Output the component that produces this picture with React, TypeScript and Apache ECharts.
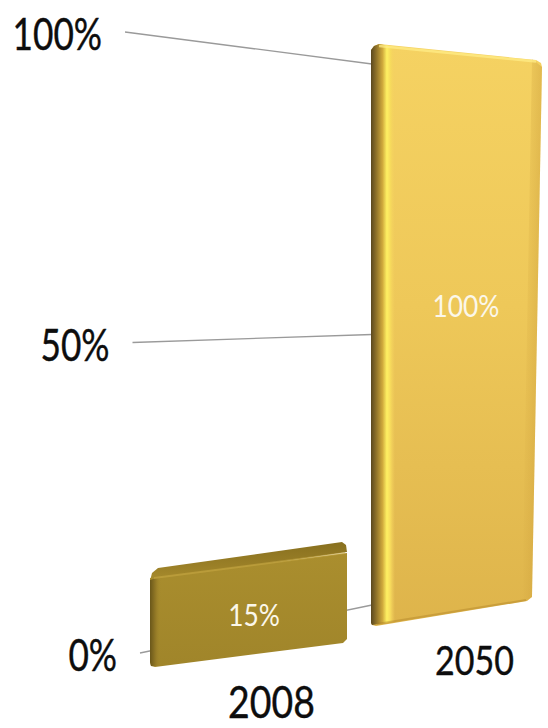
import React, { useEffect, useRef } from 'react';
import * as echarts from 'echarts';

// ---- data ----
const categories = ['2008', '2050'];
const values = [15, 100];
const valueLabels = ['15%', '100%'];
const yTicks = [0, 50, 100];
const yTickLabels = ['0%', '50%', '100%'];

// ---- layout / perspective constants (not data) ----
const REF_K = 5.41; // px per unit of the reference value axis (grid height 541 / 100)
const GRID_RIGHT_X = 372;
const GRID_LEFT_X0 = 140;
const GRID_LEFT_DX = 0.15 / REF_K;
const GRID_LEFT_Y0 = 653;
const GRID_LEFT_K = 6.21 / REF_K;

const BAR_GEOM = [
  { xL: 150, xR: 347, yL0: 667, yR0: 643, kL: 5.93, kR: 6.0, rSlope: 0, labelFrac: 0.46, catFont: 44, kind: 'front' },
  { xL: 371, xR: 532, yL0: 625, yR0: 601, kL: 5.8, kR: 5.41, rSlope: 10 / 541, labelFrac: 0.55, catFont: 40, kind: 'back' },
];

const FONT = 'Lato, "Open Sans", sans-serif';

function lin(x1: number, y1: number, x2: number, y2: number, x: number) {
  return y1 + ((x - x1) / (x2 - x1)) * (y2 - y1);
}

function hGrad(stops: [number, string][]) {
  return new echarts.graphic.LinearGradient(0, 0, 1, 0, stops.map(([offset, color]) => ({ offset, color })));
}
function vGrad(stops: [number, string][]) {
  return new echarts.graphic.LinearGradient(0, 0, 0, 1, stops.map(([offset, color]) => ({ offset, color })));
}

function renderGrid(params: any, api: any) {
  const v = api.value(1);
  const py0 = api.coord([0, 0])[1];
  const py = api.coord([0, v])[1];
  const d = py0 - py;
  const lx = GRID_LEFT_X0 - d * GRID_LEFT_DX;
  const ly = GRID_LEFT_Y0 - d * GRID_LEFT_K;
  return {
    type: 'group',
    children: [
      {
        type: 'line',
        shape: { x1: lx, y1: ly, x2: GRID_RIGHT_X, y2: py },
        style: { stroke: '#9a9a9a', lineWidth: 1.3 },
      },
      {
        type: 'text',
        x: lx - 23,
        y: ly + 1,
        scaleX: 0.8,
        style: {
          x: 0,
          y: 0,
          text: yTickLabels[params.dataIndex],
          fill: '#0d0d0d',
          fontSize: 44,
          fontFamily: FONT,
          align: 'right',
          verticalAlign: 'middle',
          stroke: '#0d0d0d',
          lineWidth: 0.4,
        },
      },
    ],
  };
}

function renderBar(params: any, api: any) {
  const i = api.value(0);
  const v = api.value(1);
  const g = BAR_GEOM[i];
  const base = api.coord([i, 0])[1];
  const top = api.coord([i, v])[1];
  const d = base - top;
  const xL = g.xL;
  const xRb = g.xR;
  const xRt = g.xR + d * g.rSlope;
  const yL0 = g.yL0;
  const yR0 = g.yR0;
  const yLt = yL0 - (d * g.kL) / REF_K;
  const yRt = yR0 - (d * g.kR) / REF_K;
  const yTop = (x: number) => lin(xL, yLt, xRt, yRt, x);
  const yBot = (x: number) => lin(xL, yL0, xRb, yR0, x);
  const children: any[] = [];

  if (g.kind === 'back') {
    children.push({
      type: 'polygon',
      shape: { points: [[xL, yL0 - 2], [xL, yLt + 5], [xL + 3, yLt + 1], [xL + 8, yLt - 1], [xRt - 6, yRt], [xRt - 1, yRt + 3], [xRt, yRt + 7], [xRb, yR0 - 4], [xRb - 5, yR0], [xL + 5, yL0 + 1], [xL + 1, yL0]] },
      style: { fill: vGrad([[0, '#f5d262'], [0.45, '#eec859'], [1, '#deb44b']]) },
    });
    const sw = 10;
    children.push({
      type: 'polygon',
      shape: { points: [[xRt - sw, yTop(xRt - sw)], [xRt, yRt + 7], [xRb, yR0 - 4], [xRb - sw, yBot(xRb - sw)]] },
      style: { fill: hGrad([[0, 'rgba(185,135,40,0)'], [1, 'rgba(185,135,40,0.32)']]) },
    });
    const w = 24;
    children.push({
      type: 'polygon',
      shape: { points: [[xL, yL0 - 2], [xL, yLt + 5], [xL + 3, yLt + 1], [xL + 8, yLt - 1], [xL + w, yTop(xL + w)], [xL + w, yBot(xL + w)], [xL + 1, yL0]] },
      style: {
        fill: hGrad([
          [0, '#5a4820'],
          [0.22, '#8f722a'],
          [0.48, '#d0a93c'],
          [0.66, '#fff062'],
          [0.8, '#f7dc5c'],
          [1, 'rgba(244,208,96,0)'],
        ]),
      },
    });
    children.push({
      type: 'polyline',
      shape: { points: [[xL + 8, yLt + 1], [xRt - 6, yRt + 1.5]] },
      style: { stroke: 'rgba(255,236,135,0.75)', lineWidth: 2.5, fill: 'none' },
    });
    children.push({
      type: 'polyline',
      shape: { points: [[xL + 6, yL0 - 1], [xRb - 6, yR0 - 1]] },
      style: { stroke: 'rgba(170,125,35,0.4)', lineWidth: 2, fill: 'none' },
    });
  } else {
    // top face
    children.push({
      type: 'polygon',
      shape: { points: [[xL, yLt + 3], [xL + 2, yLt - 5], [xL + 8, yLt - 10], [xRt - 5, yRt - 11], [xRt - 1, yRt - 8], [xRt, yRt - 1]] },
      style: { fill: vGrad([[0, '#88701f'], [0.6, '#9a7f27'], [1, '#a88c2d']]) },
    });
    // front face
    children.push({
      type: 'polygon',
      shape: { points: [[xL + 1, yL0 - 1], [xL, yL0 - 5], [xL, yLt], [xRt, yRt], [xRb, yR0 - 4], [xRb - 4, yR0], [xL + 5, yL0]] },
      style: { fill: vGrad([[0, '#aa8e2e'], [1, '#a0852a']]) },
    });
    const w = 11;
    children.push({
      type: 'polygon',
      shape: { points: [[xL, yL0 - 5], [xL, yLt + 2], [xL + w, yTop(xL + w)], [xL + w, yBot(xL + w)], [xL + 1, yL0 - 1]] },
      style: { fill: hGrad([[0, '#6a571a'], [0.5, '#927826'], [1, 'rgba(166,139,46,0)']]) },
    });
    children.push({
      type: 'polyline',
      shape: { points: [[xL + 4, yLt], [xRt - 2, yRt]] },
      style: { stroke: 'rgba(200,170,70,0.55)', lineWidth: 2, fill: 'none' },
    });
  }

  // value label inside the bar
  const leftInner = g.kind === 'back' ? xL + 24 : xL + 11;
  const xc = (leftInner + (xRb + xRt) / 2) / 2;
  const midBase = (yL0 + yR0) / 2;
  const midTop = (yLt + yRt) / 2;
  const yc = midBase - (midBase - midTop) * g.labelFrac;
  children.push({
    type: 'text',
    x: xc,
    y: yc,
    scaleX: 0.85,
    style: {
      x: 0,
      y: 0,
      text: valueLabels[params.dataIndex],
      fill: '#fbf7ea',
      fontSize: 31,
      fontFamily: FONT,
      align: 'center',
      verticalAlign: 'middle',
    },
  });

  // category label under the bar
  children.push({
    type: 'text',
    x: (xL + xRb) / 2 + 23,
    y: midBase + 46,
    scaleX: 0.85,
    style: {
      x: 0,
      y: 0,
      text: categories[params.dataIndex],
      fill: '#0d0d0d',
      fontSize: g.catFont,
      fontFamily: FONT,
      align: 'center',
      verticalAlign: 'middle',
      stroke: '#0d0d0d',
      lineWidth: 0.4,
    },
  });

  return { type: 'group', children };
}

export default function App() {
  const ref = useRef<HTMLDivElement>(null);

  useEffect(() => {
    document.body.style.margin = '0';
    if (!ref.current) return;
    const chart = echarts.init(ref.current, null, { renderer: 'svg' });
    chart.setOption({
      animation: false,
      backgroundColor: '#ffffff',
      grid: { left: 0, right: 0, top: 64, bottom: 123 },
      xAxis: { type: 'category', data: categories, show: false },
      yAxis: { type: 'value', min: 0, max: 100, interval: 50, show: false },
      series: [
        {
          type: 'custom',
          name: 'grid',
          clip: false,
          silent: true,
          renderItem: renderGrid,
          encode: { x: 0, y: 1 },
          data: yTicks.map((t) => [0, t]),
          z: 1,
        },
        {
          type: 'custom',
          name: 'share',
          clip: false,
          renderItem: renderBar,
          encode: { x: 0, y: 1 },
          data: values.map((v, i) => [i, v]),
          z: 2,
        },
      ],
    });
    return () => chart.dispose();
  }, []);

  return <div ref={ref} style={{ width: 548, height: 728 }} />;
}
